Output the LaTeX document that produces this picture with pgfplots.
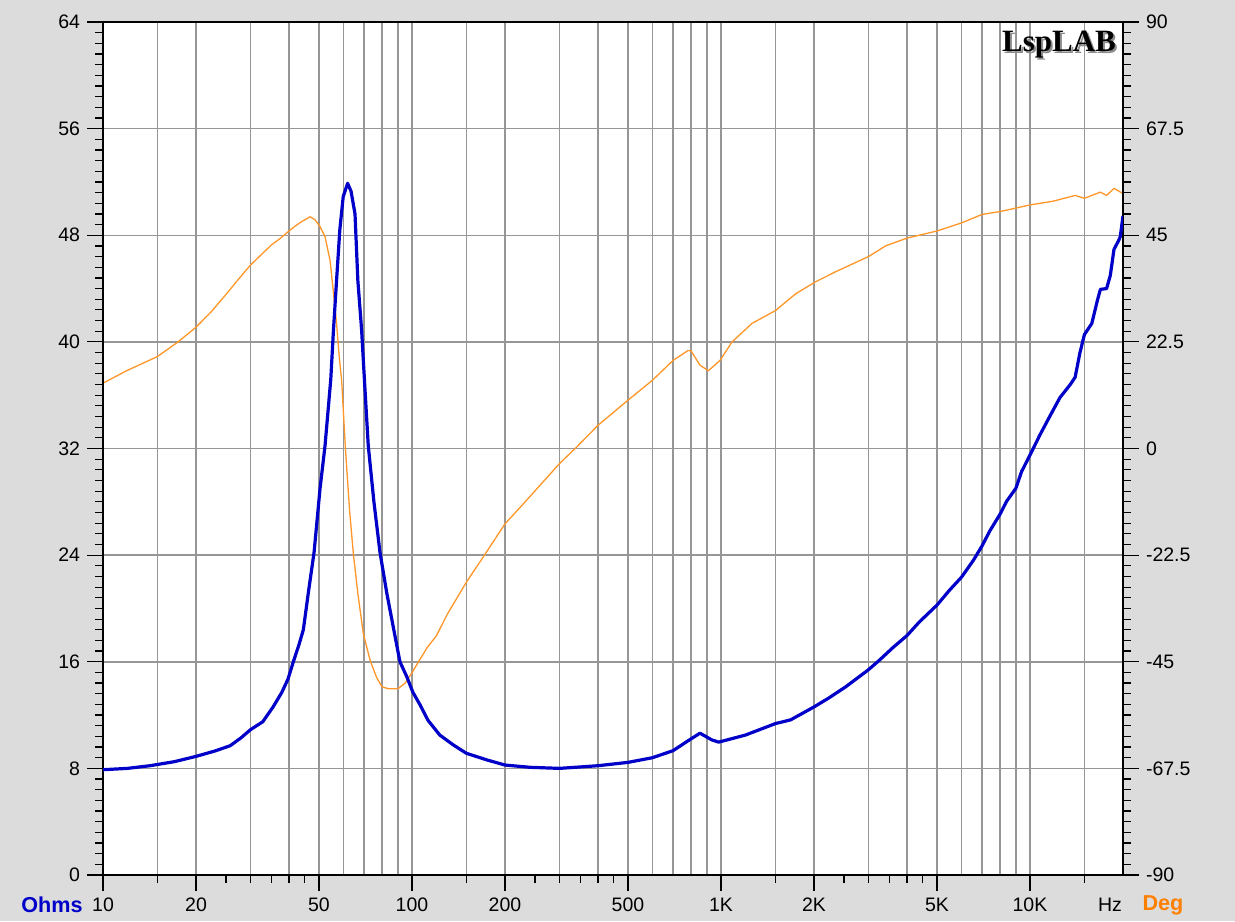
\documentclass[border=0pt]{standalone}
\usepackage{fontspec}
\setmainfont{Liberation Sans}
\newfontfamily\serifb{Liberation Serif}
\usepackage{pgfplots}
\pgfplotsset{compat=1.18}
\definecolor{bgc}{RGB}{220,220,220}
\definecolor{gridc}{RGB}{150,150,150}
\definecolor{zblue}{RGB}{0,0,200}
\definecolor{phor}{RGB}{255,150,40}
\definecolor{degor}{RGB}{255,128,0}
\pgfplotsset{
  myaxis/.style={
    scale only axis, width=510pt, height=426.5pt,
    at={(0,0)}, anchor=south west,
    xmin=10, xmax=20000,
    /pgf/number format/assume math mode=true,
    tick label style={font=\fontsize{9.75}{11}\selectfont, black},
    tick align=outside,
    major tick length=8pt, minor tick length=4pt,
    tick style={black, line width=0.6pt},
    axis line style={black, line width=1pt},
  }
}
\begin{document}
\begin{tikzpicture}
\useasboundingbox (-51.5pt,-23pt) rectangle (566pt,437.5pt);
\fill[bgc] (-51.5pt,-23pt) rectangle (566pt,437.5pt);
\fill[white] (0,0) rectangle (510pt,426.5pt);
% grid only
\begin{semilogxaxis}[myaxis,
  ymin=0, ymax=64, ytick={8,16,...,56},
  xtick={15,20,30,40,50,60,70,80,90,100,150,200,300,400,500,600,700,800,900,1000,1500,2000,3000,4000,5000,6000,7000,8000,9000,10000,15000},
  minor xtick={}, minor ytick={},
  xticklabels={}, yticklabels={},
  major tick length=0pt,
  tick style={draw=none},
  axis line style={draw=none},
  xmajorgrids, ymajorgrids,
  major grid style={gridc, line width=0.75pt},
]
\end{semilogxaxis}
% phase axis (right)
\begin{semilogxaxis}[myaxis,
  ymin=-90, ymax=90,
  ytick={-90,-67.5,-45,-22.5,0,22.5,45,67.5,90},
  yticklabels={-90,-67.5,-45,-22.5,0,22.5,45,67.5,90},
  minor y tick num=9,
  ytick pos=right, yticklabel pos=right,
  xtick={10,20,50,100,200,500,1000,2000,5000,10000},
  xticklabels={10,20,50,100,200,500,1K,2K,5K,10K},
  minor xtick={15,25,30,35,40,45,150,250,300,350,400,450,1500,2500,3000,3500,4000,4500,15000},
  xtick pos=bottom, xticklabel pos=bottom,
]
\addplot[phor, line width=0.65pt, line join=round] coordinates {
(10,13.8) (12,16.5) (15,19.4) (17.5,22.5) (20,25.6) (22.5,29) (25,32.5) (27.5,35.8)
(30,38.7) (33,41.3) (35,42.9) (37.4,44.3) (40,45.9) (42,47.0) (44,47.9) (46.8,48.9)
(48.5,48.3) (50.4,46.8) (52.3,44.7) (54.3,39.7) (55.6,33.4) (57.0,26.4) (58.2,19.0)
(59.2,14.4) (60.9,0) (62.8,-13) (64.6,-22.2) (66.8,-30.6) (69.6,-39.1) (73.2,-44.7)
(76.8,-48.3) (80,-50.3) (84,-50.7) (90,-50.7) (95,-49.5) (100,-47.3) (105,-45)
(112,-42) (120,-39.5) (130,-35) (150,-28.2) (170,-22.9) (200,-15.9) (235,-10.9)
(300,-3.2) (341,0.3) (400,4.9) (500,10.2) (600,14.4) (700,18.6) (783,20.7) (800,20.6)
(855,17.6) (910,16.4) (993,18.6) (1086,22.5) (1260,26.4) (1500,29.1) (1745,32.65)
(2000,35.0) (2350,37.3) (3000,40.5) (3420,42.8) (4000,44.4) (5000,45.9) (6000,47.6)
(7000,49.4) (8000,50.0) (10000,51.4) (11900,52.2) (14000,53.4) (15000,52.8)
(16900,54.1) (17700,53.4) (18700,54.9) (20000,53.8)
};
\end{semilogxaxis}
% impedance axis (left)
\begin{semilogxaxis}[myaxis,
  ymin=0, ymax=64, ytick={0,8,...,64},
  minor y tick num=9,
  ytick pos=left, yticklabel pos=left,
  xtick=\empty, minor xtick={},
]
\addplot[zblue, line width=1.6pt, line join=round] coordinates {
(10,7.9) (12,8.0) (14.2,8.2) (17,8.5) (20,8.9) (23,9.3) (25.8,9.7) (28,10.3) (30,10.9)
(32.9,11.5) (35.5,12.6) (37.9,13.7) (39.7,14.7) (41.3,16.0) (43.1,17.3) (44.5,18.4)
(46.2,21.2) (48.2,24.2) (50.4,29.0) (52.3,32.2) (54.6,37.2) (55.7,40.9) (57,44.6) (58.4,48.4)
(59.9,50.9) (61.9,51.9) (63.5,51.3) (65.4,49.6) (66.8,44.6) (68.7,40.9) (70.3,36.8)
(72.2,32.2) (75.3,28.0) (78.8,24.2) (82.8,21.2) (86,19.2) (91.4,16.0) (96.1,14.9)
(100.7,13.7) (106,12.8) (112.7,11.6) (123,10.5) (136,9.76) (150,9.13) (175,8.63)
(200,8.25) (241,8.08) (300,8.0) (400,8.2) (500,8.45) (600,8.8) (700,9.33) (774,10.0)
(855,10.64) (933,10.14) (983,9.97) (1200,10.5) (1500,11.36) (1680,11.64) (2000,12.61)
(2240,13.3) (2540,14.14) (3000,15.4) (3250,16.1) (3600,17.06) (4000,17.97) (4390,19.0)
(5000,20.25) (5490,21.37) (6000,22.34) (6550,23.59) (7000,24.7) (7410,25.81)
(8000,27.07) (8400,28.04) (9000,29.01) (9390,30.26) (10000,31.51) (10780,33.04)
(11600,34.43) (12500,35.82) (13500,36.8) (14000,37.35) (14500,39.16) (15000,40.55)
(15850,41.38) (16500,43.05) (16900,43.94) (17700,44.0) (18200,45.0) (18700,46.94)
(19400,47.64) (19600,47.9) (20000,49.45)
};
\end{semilogxaxis}
\node[font=\fontsize{10.8}{12}\selectfont\bfseries, text=zblue] at (-25.5pt,-15pt) {Ohms};
\node[font=\fontsize{10.8}{12}\selectfont\bfseries, text=degor] at (530pt,-15pt) {Deg};
\node[font=\fontsize{9.75}{11}\selectfont] at (503.5pt,-15pt) {Hz};
\node[font=\fontsize{15.5}{17}\selectfont\serifb\bfseries, text=black!45] at (479pt,414pt) {LspLAB};
\node[font=\fontsize{15.5}{17}\selectfont\serifb\bfseries, text=black] at (478pt,415pt) {LspLAB};
\end{tikzpicture}
\end{document}
